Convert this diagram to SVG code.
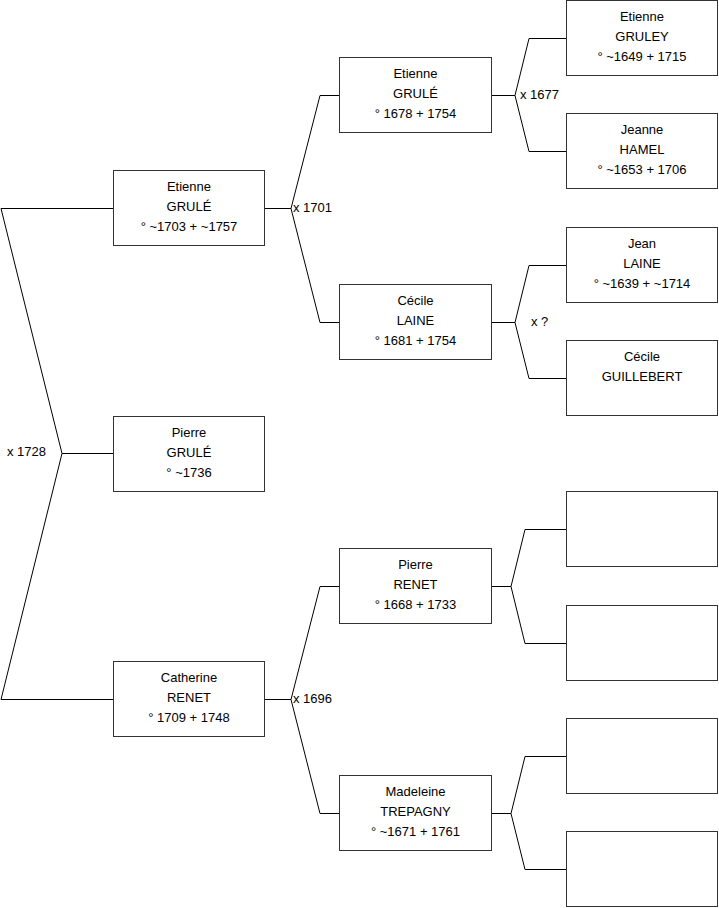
<svg xmlns="http://www.w3.org/2000/svg" width="719" height="908" viewBox="0 0 719 908">
<style>
.box{fill:#fff;stroke:#333;stroke-width:1}
.ln{fill:none;stroke:#000;stroke-width:1}
text{font-family:"Liberation Sans",Arial,sans-serif;font-size:13px;fill:#000}
.c{text-anchor:middle}
</style>
<rect width="719" height="908" fill="#fff"/>
<g id="connectors">
<path class="ln" d="M113.5,208.5H1L62,453.5L1,699.5H113.5M62,453.5H113.5"/>
<path class="ln" d="M264.5,208.5H291M339.5,95.5H320L291,208.5L320,322.5H339.5"/>
<path class="ln" d="M264.5,699.5H291M339.5,586.5H320L291,699.5L320,813.5H339.5"/>
<path class="ln" d="M491.5,95.5H515M566.5,38.5H529L515,95.5L529,151.5H566.5"/>
<path class="ln" d="M491.5,322.5H515M566.5,265.5H529L515,322.5L529,378.5H566.5"/>
<path class="ln" d="M491.5,586.5H511M566.5,529.5H525L511,586.5L525,643.5H566.5"/>
<path class="ln" d="M491.5,813.5H511M566.5,756.5H525L511,813.5L525,869.5H566.5"/>
<text x="7" y="456">x 1728</text>
<text x="293" y="212">x 1701</text>
<text x="293" y="703">x 1696</text>
<text x="520" y="99">x 1677</text>
<text x="531" y="326">x ?</text>
</g>
<g id="etienne-grule-1703">
<rect class="box" x="113.5" y="170.5" width="151" height="75"/>
<text class="c" x="189" y="191">Etienne</text>
<text class="c" x="189" y="211">GRULÉ</text>
<text class="c" x="189" y="231">° ~1703 + ~1757</text>
</g>
<g id="pierre-grule">
<rect class="box" x="113.5" y="416.5" width="151" height="75"/>
<text class="c" x="189" y="437">Pierre</text>
<text class="c" x="189" y="457">GRULÉ</text>
<text class="c" x="189" y="477">° ~1736</text>
</g>
<g id="catherine-renet">
<rect class="box" x="113.5" y="661.5" width="151" height="75"/>
<text class="c" x="189" y="682">Catherine</text>
<text class="c" x="189" y="702">RENET</text>
<text class="c" x="189" y="722">° 1709 + 1748</text>
</g>
<g id="etienne-grule-1678">
<rect class="box" x="339.5" y="57.5" width="152" height="75"/>
<text class="c" x="415.5" y="78">Etienne</text>
<text class="c" x="415.5" y="98">GRULÉ</text>
<text class="c" x="415.5" y="118">° 1678 + 1754</text>
</g>
<g id="cecile-laine">
<rect class="box" x="339.5" y="284.5" width="152" height="75"/>
<text class="c" x="415.5" y="305">Cécile</text>
<text class="c" x="415.5" y="325">LAINE</text>
<text class="c" x="415.5" y="345">° 1681 + 1754</text>
</g>
<g id="pierre-renet">
<rect class="box" x="339.5" y="548.5" width="152" height="75"/>
<text class="c" x="415.5" y="569">Pierre</text>
<text class="c" x="415.5" y="589">RENET</text>
<text class="c" x="415.5" y="609">° 1668 + 1733</text>
</g>
<g id="madeleine-trepagny">
<rect class="box" x="339.5" y="775.5" width="152" height="75"/>
<text class="c" x="415.5" y="796">Madeleine</text>
<text class="c" x="415.5" y="816">TREPAGNY</text>
<text class="c" x="415.5" y="836">° ~1671 + 1761</text>
</g>
<g id="etienne-gruley">
<rect class="box" x="566.5" y="0.5" width="151" height="75"/>
<text class="c" x="642" y="21">Etienne</text>
<text class="c" x="642" y="41">GRULEY</text>
<text class="c" x="642" y="61">° ~1649 + 1715</text>
</g>
<g id="jeanne-hamel">
<rect class="box" x="566.5" y="113.5" width="151" height="75"/>
<text class="c" x="642" y="134">Jeanne</text>
<text class="c" x="642" y="154">HAMEL</text>
<text class="c" x="642" y="174">° ~1653 + 1706</text>
</g>
<g id="jean-laine">
<rect class="box" x="566.5" y="227.5" width="151" height="75"/>
<text class="c" x="642" y="248">Jean</text>
<text class="c" x="642" y="268">LAINE</text>
<text class="c" x="642" y="288">° ~1639 + ~1714</text>
</g>
<g id="cecile-guillebert">
<rect class="box" x="566.5" y="340.5" width="151" height="75"/>
<text class="c" x="642" y="361">Cécile</text>
<text class="c" x="642" y="381">GUILLEBERT</text>
</g>
<g id="empty-1"><rect class="box" x="566.5" y="491.5" width="151" height="75"/></g>
<g id="empty-2"><rect class="box" x="566.5" y="605.5" width="151" height="75"/></g>
<g id="empty-3"><rect class="box" x="566.5" y="718.5" width="151" height="75"/></g>
<g id="empty-4"><rect class="box" x="566.5" y="831.5" width="151" height="75"/></g>
</svg>
